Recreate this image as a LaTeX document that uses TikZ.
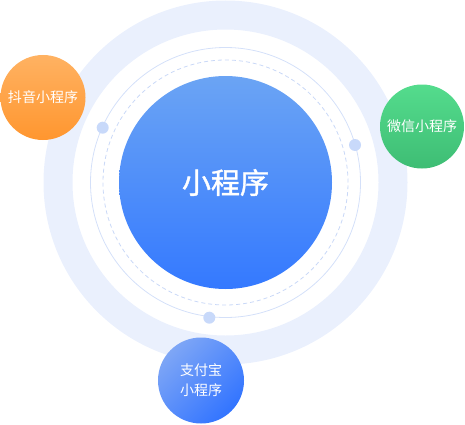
\documentclass[tikz,border=0pt]{standalone}
\usepackage{fontspec}
\newfontfamily\cjk{Noto Sans CJK SC}
\newfontfamily\cjkmed[FakeBold=1.3]{Noto Sans CJK SC}
\usepackage{tikz}
\usetikzlibrary{positioning}
\usepackage{xcolor}
\definecolor{ringpale}{HTML}{EAF0FD}
\definecolor{ringline}{HTML}{D4E0F9}
\definecolor{ringdash}{HTML}{C9D8F7}
\definecolor{dotblue}{HTML}{C8D9FA}
\definecolor{hubtop}{HTML}{6BA4F4}
\definecolor{hubbot}{HTML}{3479FF}
\definecolor{orgtop}{HTML}{FFB262}
\definecolor{orgbot}{HTML}{FF962F}
\definecolor{grntop}{HTML}{54DC8D}
\definecolor{grnbot}{HTML}{3EBD74}
\definecolor{blutop}{HTML}{7EA6F6}
\definecolor{blubot}{HTML}{3274FF}

\begin{document}
\begin{tikzpicture}[x=1pt, y=1pt,
		sat/.style={circle, inner sep=0pt, text=white, font=\cjk\fontsize{14}{20}\selectfont, align=center},
		orbitdot/.style={circle, fill=dotblue, inner sep=0pt, minimum size=12pt}]
			\useasboundingbox (0,0) rectangle (465,424);
			\coordinate (C) at (225.5, 241.5);
			
			% pale outer band and orbit lines
			\fill[ringpale, even odd rule] (C) circle (182pt) (C) circle (153pt);
			\draw[ringline, line width=0.8pt] (C) circle (135pt);
			\draw[ringdash, line width=0.8pt, dash pattern=on 4pt off 3pt] (C) circle (122.5pt);
			
			\node[orbitdot] (dotL) at (102.7, 296.3) {};
			\node[orbitdot] (dotR) at (355, 279) {};
			\node[orbitdot] (dotB) at (209.3, 106.3) {};
			
			% centre
			\node[circle, inner sep=0pt, minimum size=213pt, top color=hubtop, bottom color=hubbot,
				text=white, font=\cjkmed\fontsize{29}{32}\selectfont] (hub) at (C) {小程序};
			
			% satellites
			\node[sat, minimum size=85pt, top color=orgtop, bottom color=orgbot] (douyin) at (43, 326.5) {抖音小程序};
			\node[sat, minimum size=84pt, top color=grntop, bottom color=grnbot] (weixin) at (422, 297.5) {微信小程序};
			\node[sat, minimum size=86pt, shading=axis, left color=blutop, right color=blubot, shading angle=45] (zhifubao) at (201, 43.5) {支付宝\\小程序};
		\end{tikzpicture}
\end{document}
